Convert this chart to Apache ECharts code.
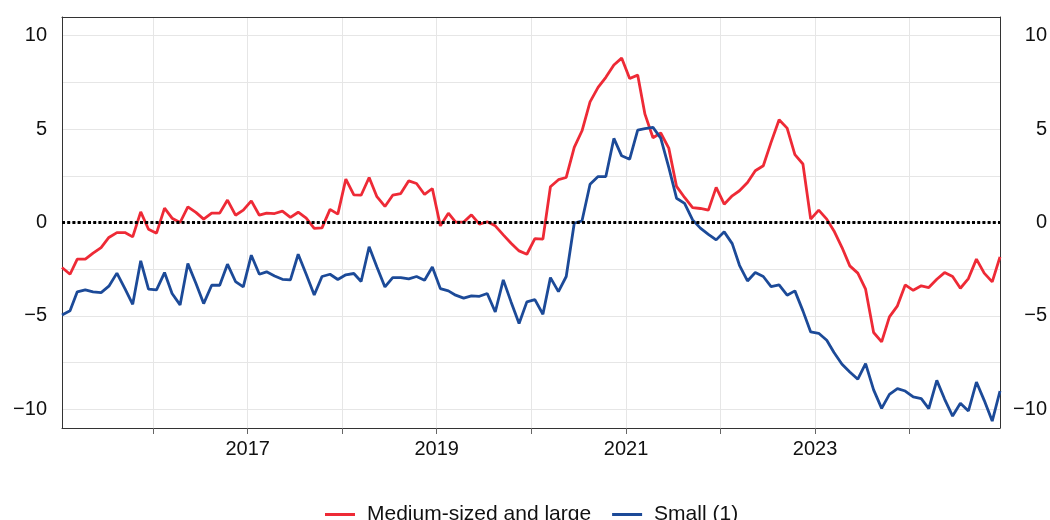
<!DOCTYPE html>
<html>
<head>
<meta charset="utf-8">
<script src="https://cdn.jsdelivr.net/npm/echarts@6/dist/echarts.min.js"></script>
<style>
  html, body { margin: 0; padding: 0; background: #fff; }
  #main { width: 1050px; height: 520px; }
</style>
</head>
<body>
<div id="main"></div>
<script>
// monthly, Jan 2015 - Dec 2024
var startYear = 2015
var monthCount = 120

var mediumLarge = [
  -2.41, -2.77, -1.96, -1.96, -1.64, -1.34, -0.80, -0.54, -0.54, -0.77, 0.57, -0.36,
  -0.57, 0.77, 0.23, 0.00, 0.84, 0.54, 0.18, 0.50, 0.50, 1.20, 0.39, 0.66,
  1.16, 0.39, 0.50, 0.48, 0.61, 0.27, 0.55, 0.23, -0.32, -0.29, 0.70, 0.45,
  2.32, 1.48, 1.46, 2.41, 1.38, 0.86, 1.46, 1.55, 2.23, 2.09, 1.50, 1.82,
  -0.18, 0.50, 0.02, 0.02, 0.41, -0.09, 0.04, -0.18, -0.66, -1.11, -1.52, -1.70,
  -0.86, -0.89, 1.91, 2.29, 2.41, 4.02, 4.91, 6.46, 7.23, 7.77, 8.43, 8.80,
  7.71, 7.89, 5.80, 4.54, 4.79, 3.98, 1.93, 1.34, 0.80, 0.75, 0.66, 1.88,
  0.98, 1.43, 1.70, 2.14, 2.77, 3.04, 4.29, 5.50, 5.05, 3.63, 3.13, 0.18,
  0.66, 0.18, -0.45, -1.34, -2.32, -2.71, -3.57, -5.89, -6.39, -5.05, -4.46, -3.34,
  -3.63, -3.39, -3.48, -3.04, -2.68, -2.89, -3.52, -3.00, -1.96, -2.71, -3.18, -1.84
]

var small = [
  -4.95, -4.73, -3.71, -3.61, -3.71, -3.75, -3.41, -2.71, -3.54, -4.38, -2.05, -3.57,
  -3.61, -2.68, -3.80, -4.41, -2.20, -3.25, -4.34, -3.36, -3.36, -2.23, -3.16, -3.45,
  -1.75, -2.77, -2.64, -2.86, -3.04, -3.07, -1.70, -2.77, -3.88, -2.89, -2.77, -3.05,
  -2.80, -2.73, -3.16, -1.30, -2.38, -3.45, -2.95, -2.95, -3.02, -2.89, -3.09, -2.38,
  -3.54, -3.66, -3.89, -4.05, -3.93, -3.95, -3.80, -4.79, -3.07, -4.25, -5.41, -4.25,
  -4.13, -4.91, -2.95, -3.70, -2.89, -0.04, 0.09, 2.05, 2.46, 2.46, 4.50, 3.57,
  3.39, 4.95, 5.02, 5.09, 4.52, 2.95, 1.30, 1.02, 0.14, -0.30, -0.63, -0.93,
  -0.50, -1.13, -2.29, -3.13, -2.68, -2.89, -3.43, -3.34, -3.89, -3.66, -4.73, -5.86,
  -5.93, -6.30, -6.96, -7.59, -8.00, -8.39, -7.55, -8.96, -9.95, -9.20, -8.89, -9.02,
  -9.34, -9.43, -9.96, -8.45, -9.45, -10.36, -9.68, -10.09, -8.54, -9.52, -10.63, -9.02
]

var seriesNames = ['Medium-sized and large', 'Small (1)']
var yLabels = [-10, -5, 0, 5, 10]
var yGrid = [-10, -7.5, -5, -2.5, 0, 2.5, 5, 7.5, 10]

// points sit in the middle of each month
var dates = []
for (var i = 0; i < monthCount; i++) {
  dates.push(new Date(startYear + Math.floor(i / 12), i % 12, 15).getTime())
}
function pairs(vals) {
  return vals.map(function (v, i) { return [dates[i], v] })
}

var chart = echarts.init(document.getElementById('main'))

var font = 'Liberation Sans, Arial, sans-serif'
var frame = { show: true, onZero: false, lineStyle: { color: '#333', width: 1 } }

function yAxisFor(side) {
  return {
    type: 'value',
    position: side,
    min: -11,
    max: 11,
    axisLine: frame,
    axisTick: { show: false, customValues: yGrid },
    splitLine: { show: side === 'left', lineStyle: { color: '#e6e6e6', width: 1 } },
    axisLabel: {
      color: '#111',
      fontSize: 20,
      fontFamily: font,
      customValues: yLabels,
      margin: side === 'left' ? 15 : 47,
      align: 'right',
      formatter: function (v) { return String(v).replace('-', '\u2212') }
    }
  }
}

function xAxisFor(side) {
  return {
    type: 'time',
    position: side,
    min: dates[0],
    max: dates[monthCount - 1],
    splitNumber: 10,
    minInterval: 365 * 24 * 3600 * 1000,
    axisLine: frame,
    axisTick: { show: side === 'bottom', length: 6, lineStyle: { color: '#666' } },
    splitLine: { show: side === 'bottom', lineStyle: { color: '#e6e6e6', width: 1 } },
    axisLabel: {
      show: side === 'bottom',
      color: '#111',
      fontSize: 20,
      fontFamily: font,
      margin: 11,
      hideOverlap: false,
      formatter: function (v) {
        var d = new Date(v)
        if (d.getMonth() === 0 && d.getDate() === 1 && d.getFullYear() % 2 === 1) return String(d.getFullYear())
        return ''
      }
    }
  }
}

var option = {
  animation: false,
  grid: { left: 62, right: 50, top: 17, bottom: 92 },
  legend: {
    left: 320,
    top: 499,
    itemWidth: 30,
    itemHeight: 20,
    itemGap: 21,
    icon: 'path://M0,9 L30,9 L30,12 L0,12 Z',
    textStyle: { fontSize: 21, fontFamily: font, color: '#111', padding: [0, 0, 0, 7] },
    data: seriesNames
  },
  xAxis: [xAxisFor('bottom'), xAxisFor('top')],
  yAxis: [yAxisFor('left'), yAxisFor('right')],
  series: [
    {
      name: seriesNames[0],
      type: 'line',
      data: pairs(mediumLarge),
      symbol: 'none',
      color: '#ee2a36',
      lineStyle: { width: 2.8 },
      z: 3,
      markLine: {
        silent: true,
        symbol: 'none',
        label: { show: false },
        lineStyle: { color: '#000', type: [3, 2.2], width: 3 },
        data: [{ yAxis: 0 }]
      }
    },
    {
      name: seriesNames[1],
      type: 'line',
      data: pairs(small),
      symbol: 'none',
      color: '#1c4a98',
      lineStyle: { width: 2.8 },
      z: 4
    }
  ]
}

chart.setOption(option)
</script>
</body>
</html>
